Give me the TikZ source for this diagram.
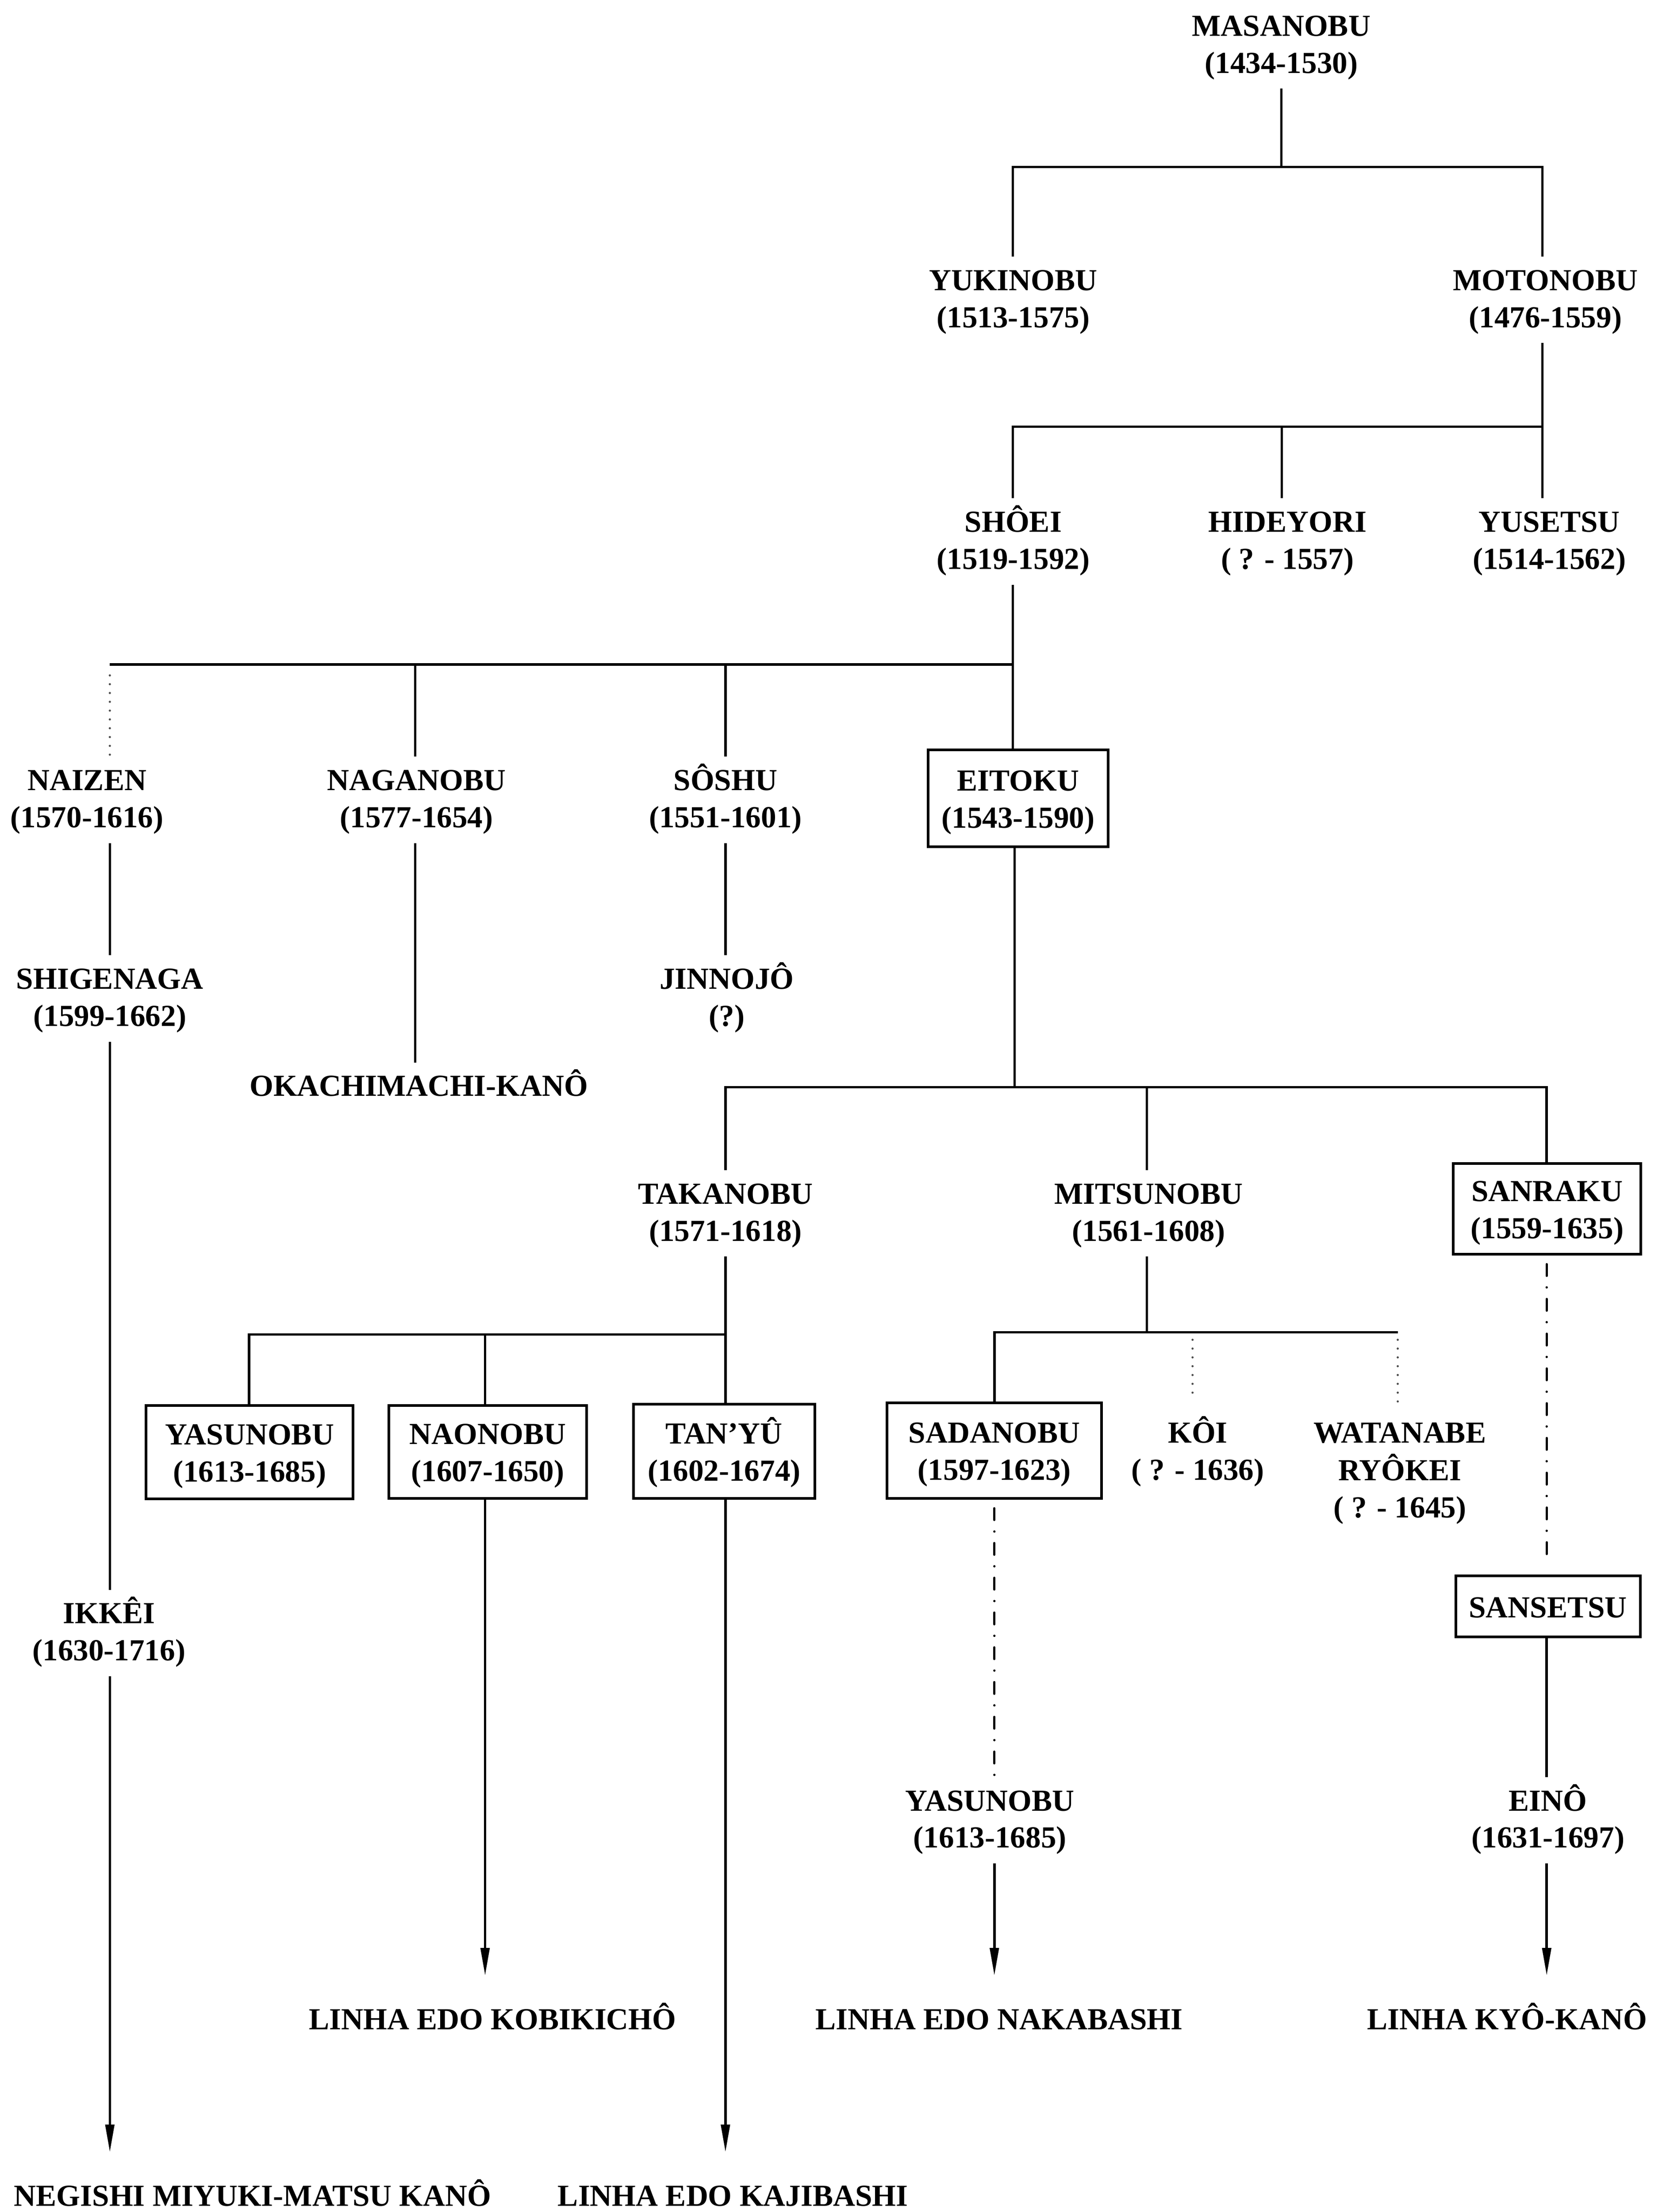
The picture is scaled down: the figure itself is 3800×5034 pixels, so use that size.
\documentclass[tikz,border=0pt]{standalone}
\usepackage{fontspec}
\setmainfont{Liberation Serif}
\usetikzlibrary{arrows.meta}
\newcommand\tlines[1]{\begin{tabular}{@{}c@{}}\rule{0pt}{19pt}#1\end{tabular}}
\newcommand\blines[1]{\begin{tabular}{@{}c@{}}\rule{0pt}{21.5pt}#1\end{tabular}}
\begin{document}
\begin{tikzpicture}[x=0.01cm,y=-0.01cm,
 every node/.style={font=\fontsize{19.8pt}{24pt}\selectfont\bfseries, inner sep=0pt},
 lbl/.style={anchor=north, outer xsep=0pt, outer ysep=0.1cm},
 fambox/.style={draw, line width=1.7pt},
 ln/.style={line width=1.6pt},
 dotl/.style={line width=1.4pt, line cap=round, dash pattern=on 0pt off 5.7pt, black!70},
 ddash/.style={line width=1.5pt, line cap=round, dash pattern=on 7.5pt off 7.5pt on 0pt off 7.5pt},
 arr/.style={line width=1.6pt, -{Triangle[length=6.3mm,width=2mm]}, shorten >=0.46cm}]
\useasboundingbox (0,0) rectangle (3800,5034);

% ---- text nodes ----
\node[lbl] (masanobu)  at (2916,5)    {\tlines{MASANOBU\\(1434-1530)}};
\node[lbl] (yukinobu)  at (2306,584)  {\tlines{YUKINOBU\\(1513-1575)}};
\node[lbl] (motonobu)  at (3517,584)  {\tlines{MOTONOBU\\(1476-1559)}};
\node[lbl] (shoei)     at (2306,1134) {\tlines{SHÔEI\\(1519-1592)}};
\node[lbl] (hideyori)  at (2930,1134) {\tlines{HIDEYORI\\( ? - 1557)}};
\node[lbl] (yusetsu)   at (3526,1134) {\tlines{YUSETSU\\(1514-1562)}};
\node[lbl] (naizen)    at (198,1722)  {\tlines{NAIZEN\\(1570-1616)}};
\node[lbl] (naganobu)  at (948,1722)  {\tlines{NAGANOBU\\(1577-1654)}};
\node[lbl] (soshu)     at (1651,1722) {\tlines{SÔSHU\\(1551-1601)}};
\node[lbl] (shigenaga) at (250,2174)  {\tlines{SHIGENAGA\\(1599-1662)}};
\node[lbl] (jinnojo)   at (1654,2174) {\tlines{JINNOJÔ\\(?)}};
\node[lbl] (okachi)    at (953,2418)  {\tlines{OKACHIMACHI-KANÔ}};
\node[lbl] (takanobu)  at (1651,2663) {\tlines{TAKANOBU\\(1571-1618)}};
\node[lbl] (mitsunobu) at (2614,2663) {\tlines{MITSUNOBU\\(1561-1608)}};
\node[lbl] (koi)       at (2726,3207) {\tlines{KÔI\\( ? - 1636)}};
\node[lbl] (watanabe)  at (3186,3207) {\tlines{WATANABE\\RYÔKEI\\( ? - 1645)}};
\node[lbl] (ikkei)     at (248,3618)  {\tlines{IKKÊI\\(1630-1716)}};
\node[lbl] (yasunobuB) at (2253,4044) {\tlines{YASUNOBU\\(1613-1685)}};
\node[lbl] (eino)      at (3523,4044) {\tlines{EINÔ\\(1631-1697)}};
\node[lbl] (kobikicho) at (1121,4542) {\tlines{LINHA EDO KOBIKICHÔ}};
\node[lbl] (nakabashi) at (2274,4542) {\tlines{LINHA EDO NAKABASHI}};
\node[lbl] (kyokano)   at (3430,4542) {\tlines{LINHA KYÔ-KANÔ}};
\node[lbl] (negishi)   at (575,4944)  {\tlines{NEGISHI MIYUKI-MATSU KANÔ}};
\node[lbl] (kajibashi) at (1668,4944) {\tlines{LINHA EDO KAJIBASHI}};

% ---- boxed nodes ----
\node[fambox, minimum width=4.09cm, minimum height=2.20cm] (eitoku)   at (2317,1817) {\blines{EITOKU\\(1543-1590)}};
\node[fambox, minimum width=4.27cm, minimum height=2.06cm] (sanraku)  at (3521,2751) {\blines{SANRAKU\\(1559-1635)}};
\node[fambox, minimum width=4.71cm, minimum height=2.12cm] (yasunobu) at (568,3305)  {\blines{YASUNOBU\\(1613-1685)}};
\node[fambox, minimum width=4.50cm, minimum height=2.11cm] (naonobu)  at (1110,3304) {\blines{NAONOBU\\(1607-1650)}};
\node[fambox, minimum width=4.13cm, minimum height=2.14cm] (tanyu)    at (1648,3303) {\blines{TAN’YÛ\\(1602-1674)}};
\node[fambox, minimum width=4.88cm, minimum height=2.17cm] (sadanobu) at (2263,3301) {\blines{SADANOBU\\(1597-1623)}};
\node[fambox, minimum width=4.20cm, minimum height=1.39cm] (sansetsu) at (3523,3656) {\blines{SANSETSU}};

% ---- junctions ----
\coordinate (m0)  at (2916,380);
\coordinate (h1l) at (2305,380);
\coordinate (h1r) at (3510,380);
\coordinate (h2l) at (2305,971);
\coordinate (h2m) at (2917,971);
\coordinate (h2r) at (3510,971);
\coordinate (h3l) at (250,1512);
\coordinate (h3a) at (945,1512);
\coordinate (h3b) at (1651,1512);
\coordinate (h3r) at (2305,1512);
\coordinate (e0)  at (2309,2474);
\coordinate (h4l) at (1651,2474);
\coordinate (h4m) at (2610,2474);
\coordinate (h4r) at (3520,2474);
\coordinate (h5l) at (567,3037);
\coordinate (h5m) at (1104,3037);
\coordinate (h5r) at (1651,3037);
\coordinate (h6l) at (2263,3032);
\coordinate (h6m) at (2610,3032);
\coordinate (h6k) at (2714,3032);
\coordinate (h6r) at (3181,3032);

% ---- solid connectors ----
\draw[ln] (m0 |- masanobu.south) -- (m0);
\draw[ln] (h1l |- yukinobu.north) -- (h1l) -- (h1r) -- (h1r |- motonobu.north);
\draw[ln] (h2r |- motonobu.south) -- (h2r);
\draw[ln] (h2l |- shoei.north) -- (h2l) -- (h2r) -- (h2r |- yusetsu.north);
\draw[ln] (h2m) -- (h2m |- hideyori.north);
\draw[ln] (h3r |- shoei.south) -- (h3r |- eitoku.north);
\draw[ln] (h3l) -- (h3r);
\draw[ln] (h3a) -- (h3a |- naganobu.north);
\draw[ln] (h3b) -- (h3b |- soshu.north);
\draw[ln] (h3l |- naizen.south) -- (h3l |- shigenaga.north);
\draw[ln] (h3l |- shigenaga.south) -- (h3l |- ikkei.north);
\draw[ln] (h3a |- naganobu.south) -- (h3a |- okachi.north);
\draw[ln] (h3b |- soshu.south) -- (h3b |- jinnojo.north);
\draw[ln] (e0 |- eitoku.south) -- (e0);
\draw[ln] (h4l |- takanobu.north) -- (h4l) -- (h4r) -- (h4r |- sanraku.north);
\draw[ln] (h4m) -- (h4m |- mitsunobu.north);
\draw[ln] (h5r |- takanobu.south) -- (h5r |- tanyu.north);
\draw[ln] (h5l |- yasunobu.north) -- (h5l) -- (h5r);
\draw[ln] (h5m) -- (h5m |- naonobu.north);
\draw[ln] (h6m |- mitsunobu.south) -- (h6m);
\draw[ln] (h6l |- sadanobu.north) -- (h6l) -- (h6r);
\draw[ln] (h4r |- sansetsu.south) -- (h4r |- eino.north);

% ---- dotted / dash-dot connectors ----
\draw[dotl, shorten <=0.25cm] (h3l) -- (h3l |- naizen.north);
\draw[dotl, shorten <=0.17cm, shorten >=0.18cm] (h6k) -- (h6k |- koi.north);
\draw[dotl, shorten <=0.17cm] (h6r) -- (h6r |- watanabe.north);
\draw[ddash, shorten <=0.2cm, shorten >=0.25cm] (h4r |- sanraku.south) -- (h4r |- sansetsu.north);
\draw[ddash, shorten <=0.2cm] (h6l |- sadanobu.south) -- (h6l |- yasunobuB.north);

% ---- arrows ----
\draw[arr] (h3l |- ikkei.south) -- (h3l |- negishi.north);
\draw[arr] (h5m |- naonobu.south) -- (h5m |- kobikicho.north);
\draw[arr] (h5r |- tanyu.south) -- (h5r |- kajibashi.north);
\draw[arr] (h6l |- yasunobuB.south) -- (h6l |- nakabashi.north);
\draw[arr] (h4r |- eino.south) -- (h4r |- kyokano.north);
\end{tikzpicture}
\end{document}
